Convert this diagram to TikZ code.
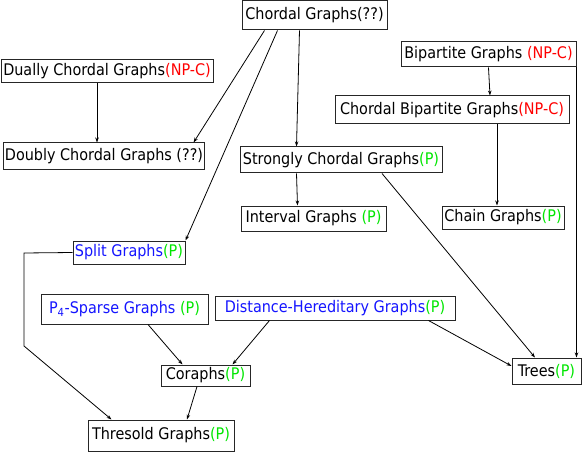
\documentclass[tikz,border=0pt]{standalone}
\usepackage{fontspec}
\setmainfont{DejaVu Sans Condensed}
\usetikzlibrary{arrows.meta,calc}
\definecolor{npred}{RGB}{255,0,0}
\definecolor{pgreen}{RGB}{0,230,0}
\definecolor{cblue}{RGB}{20,20,255}
\newcommand{\np}{\textcolor{npred}{(NP-C)}}
\newcommand{\pp}{\textcolor{pgreen}{(P)}}
\begin{document}
\begin{tikzpicture}[x=1pt,y=-1pt,
  box/.style={draw=black!85,line width=1pt,inner sep=1pt,font=\fontsize{16}{18}\selectfont},
  arr/.style={line width=0.8pt,-{Stealth[length=5pt,width=3.5pt]}}]
\useasboundingbox (0,0) rectangle (582,452);
\node[box,minimum width=145pt,minimum height=29pt] (chordal) at (314.5,15.5) {Chordal Graphs(??)};
\node[box,minimum width=212pt,minimum height=23pt] (dually) at (107,71.5) {Dually Chordal Graphs\np};
\node[box,minimum width=198pt,minimum height=27pt] (doubly) at (104,156.5) {Doubly Chordal Graphs (??)};
\node[box,minimum width=175pt,minimum height=25pt] (bip) at (488.5,54.5) {Bipartite Graphs \np};
\node[box,minimum width=234pt,minimum height=28pt] (cbip) at (452,110) {Chordal Bipartite Graphs\np};
\node[box,minimum width=202pt,minimum height=26pt] (strong) at (341,160) {Strongly Chordal Graphs\pp};
\node[box,minimum width=145pt,minimum height=25pt] (interval) at (313.5,218.5) {Interval Graphs \pp};
\node[box,minimum width=122pt,minimum height=23pt] (chain) at (503,217.5) {Chain Graphs\pp};
\node[box,minimum width=112pt,minimum height=23pt] (split) at (129,252.5) {\textcolor{cblue}{Split Graphs}\pp};
\node[box,minimum width=167pt,minimum height=30pt] (p4) at (124.5,309) {\textcolor{cblue}{P\textsubscript{4}-Sparse Graphs} \pp};
\node[box,minimum width=240pt,minimum height=24pt] (dh) at (335,308) {\textcolor{cblue}{Distance-Hereditary Graphs}\pp};
\node[box,minimum width=89pt,minimum height=21pt] (cor) at (205.5,375.5) {Coraphs\pp};
\node[box,minimum width=69pt,minimum height=26pt] (trees) at (546.5,371) {Trees\pp};
\node[box,minimum width=146pt,minimum height=31pt] (thr) at (161,435.5) {Thresold Graphs\pp};
\coordinate (sa) at (24,253);
\coordinate (sb) at (24,346);
\draw[arr] ([xshift=23pt]chordal.south west) -- ([xshift=-11pt]doubly.north east);
\draw[arr] ([xshift=36pt]chordal.south west) -- (split.north east);
\draw[arr] ([xshift=58pt]chordal.south west) -- ([xshift=57pt]strong.north west);
\draw[arr] ([xshift=-10pt]dually.south) -- ([xshift=-7pt]doubly.north);
\draw[arr] (bip.south) -- ([xshift=38pt]cbip.north);
\draw[arr] (bip.south east) -- ([xshift=-5pt]trees.north east);
\draw[arr] ([xshift=45pt]cbip.south) -- ([xshift=-6pt]chain.north);
\draw[arr] ([xshift=57pt]strong.south west) -- ([xshift=57pt]interval.north west);
\draw[arr] ([xshift=41pt]strong.south) -- ([xshift=-11.5pt]trees.north);
\draw[arr] (split.west) -- (sa) -- (sb) -- ([xshift=24pt]thr.north west);
\draw[arr] ([xshift=23.5pt]p4.south) -- ([xshift=22pt]cor.north west);
\draw[arr] ([xshift=55pt]dh.south west) -- ([xshift=-18pt]cor.north east);
\draw[arr] ([xshift=-27pt]dh.south east) -- ([yshift=5pt]trees.west);
\draw[arr] ([xshift=-8.5pt]cor.south) -- ([xshift=26pt]thr.north);
\end{tikzpicture}
\end{document}
